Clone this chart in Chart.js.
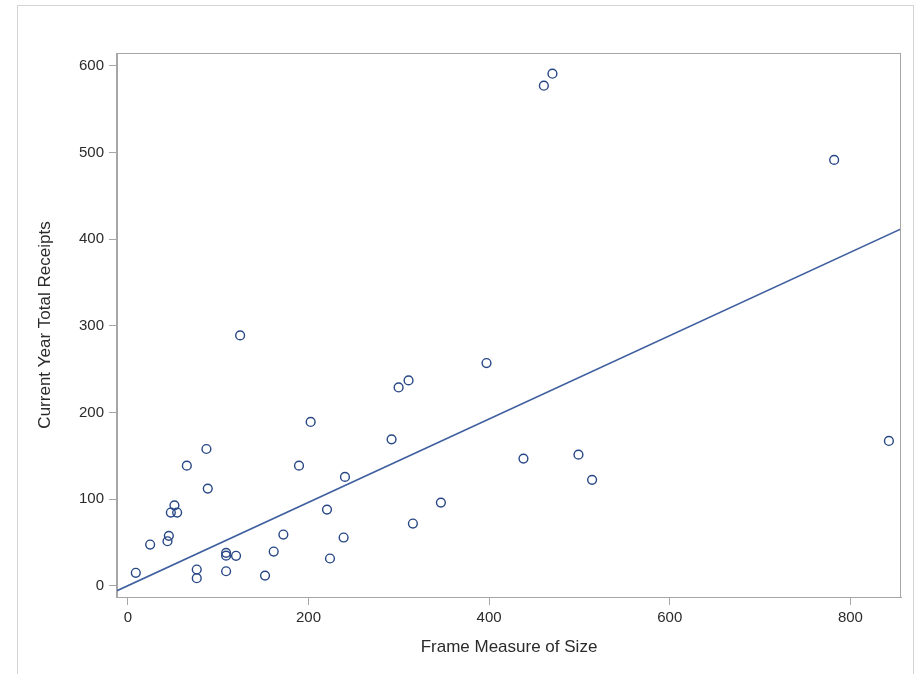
<!DOCTYPE html>
<html>
<head>
<meta charset="utf-8">
<script src="https://cdn.jsdelivr.net/npm/chart.js@4/dist/chart.umd.min.js"></script>
<style>
  html, body { margin: 0; padding: 0; background: #ffffff; }
  #wrap { width: 916px; height: 674px; position: relative; }
</style>
</head>
<body>
<div id="wrap"><canvas id="c" width="916" height="674"></canvas></div>
<script>
// ---- Data ----
const frameSize = [8.8, 24.7, 43.9, 45.4, 47.6, 54.6, 51.6, 65.3, 87, 88.5,
  76.3, 76.3, 108.8, 108.8, 119.8, 108.8, 151.9, 161.5, 172.2, 189.5,
  202.4, 124.3, 240.4, 220.5, 238.9, 223.8, 292, 299.8, 310.8, 397.1,
  315.6, 346.6, 438, 498.9, 514, 460.6, 470.1, 782, 842.6];
const receipts = [15.2, 47.8, 51.6, 57.8, 84.7, 84.7, 93, 138.8, 158, 112.3,
  19, 9, 38.2, 35, 34.8, 17, 12, 39.7, 59.3, 138.8,
  189.2, 289, 125.8, 88.1, 55.9, 31.7, 169.1, 229, 237.1, 257.1,
  72, 96.2, 146.9, 151.5, 122.4, 577, 590.8, 491.4, 167.3];
// fitted regression line, end points read at the plot edges
const fitX = [-12, 856];
const fitY = [-5.4, 411.8];
// tick labels
const xTicks = [0, 200, 400, 600, 800];
const yTicks = [0, 100, 200, 300, 400, 500, 600];
const xTitle = 'Frame Measure of Size';
const yTitle = 'Current Year Total Receipts';

const points = frameSize.map((x, i) => ({ x: x, y: receipts[i] }));
const fitLine = fitX.map((x, i) => ({ x: x, y: fitY[i] }));

const FONT = "'Liberation Sans', Arial, sans-serif";
const frameColor = '#a6a6a6';

const framePlugin = {
  id: 'frames',
  beforeDraw(chart) {
    const ctx = chart.ctx;
    ctx.save();
    ctx.strokeStyle = '#d4d4d4';
    ctx.lineWidth = 1;
    ctx.strokeRect(17.5, 5.5, 896, 700);
    ctx.restore();
  },
  afterDatasetsDraw(chart) {
    const a = chart.chartArea;
    const ctx = chart.ctx;
    ctx.save();
    ctx.strokeStyle = frameColor;
    ctx.lineWidth = 1;
    ctx.strokeRect(Math.round(a.left) - 0.5, Math.round(a.top) + 0.5,
                   Math.round(a.right - a.left), Math.round(a.bottom - a.top));
    ctx.restore();
  }
};

new Chart(document.getElementById('c'), {
  type: 'scatter',
  data: {
    datasets: [
      {
        type: 'line',
        data: fitLine,
        borderColor: '#3f5f9f',
        borderWidth: 1.6,
        pointRadius: 0,
        fill: false,
        tension: 0,
        order: 2
      },
      {
        data: points,
        pointStyle: 'circle',
        pointRadius: 4.4,
        pointBorderWidth: 1.4,
        pointBorderColor: '#284786',
        pointBackgroundColor: 'rgba(255,255,255,0)',
        order: 1
      }
    ]
  },
  options: {
    responsive: false,
    animation: false,
    devicePixelRatio: 1,
    layout: { padding: { left: 0, top: 53, right: 15, bottom: 0 } },
    plugins: { legend: { display: false }, tooltip: { enabled: false } },
    scales: {
      x: {
        type: 'linear',
        min: -12, max: 856,
        afterFit: s => { s.height = 77; },
        afterBuildTicks: s => { s.ticks = xTicks.map(v => ({ value: v })); },
        grid: { display: true, drawOnChartArea: false, drawTicks: true, tickLength: 8, color: frameColor },
        border: { display: true, color: frameColor },
        ticks: { font: { family: FONT, size: 15 }, color: '#2b2b2b', padding: 4, maxRotation: 0 },
        title: { display: true, text: xTitle, font: { family: FONT, size: 17 }, color: '#2b2b2b', padding: { top: 0, bottom: 16 } }
      },
      y: {
        type: 'linear',
        min: -12.7, max: 614.7,
        afterFit: s => { s.width = 117; },
        afterBuildTicks: s => { s.ticks = yTicks.map(v => ({ value: v })); },
        grid: { display: true, drawOnChartArea: false, drawTicks: true, tickLength: 8, color: frameColor },
        border: { display: true, color: frameColor },
        ticks: { font: { family: FONT, size: 15 }, color: '#2b2b2b', padding: 5 },
        title: { display: true, text: yTitle, font: { family: FONT, size: 17 }, color: '#2b2b2b', padding: { top: 35, bottom: 0 } }
      }
    }
  },
  plugins: [framePlugin]
});
</script>
</body>
</html>
